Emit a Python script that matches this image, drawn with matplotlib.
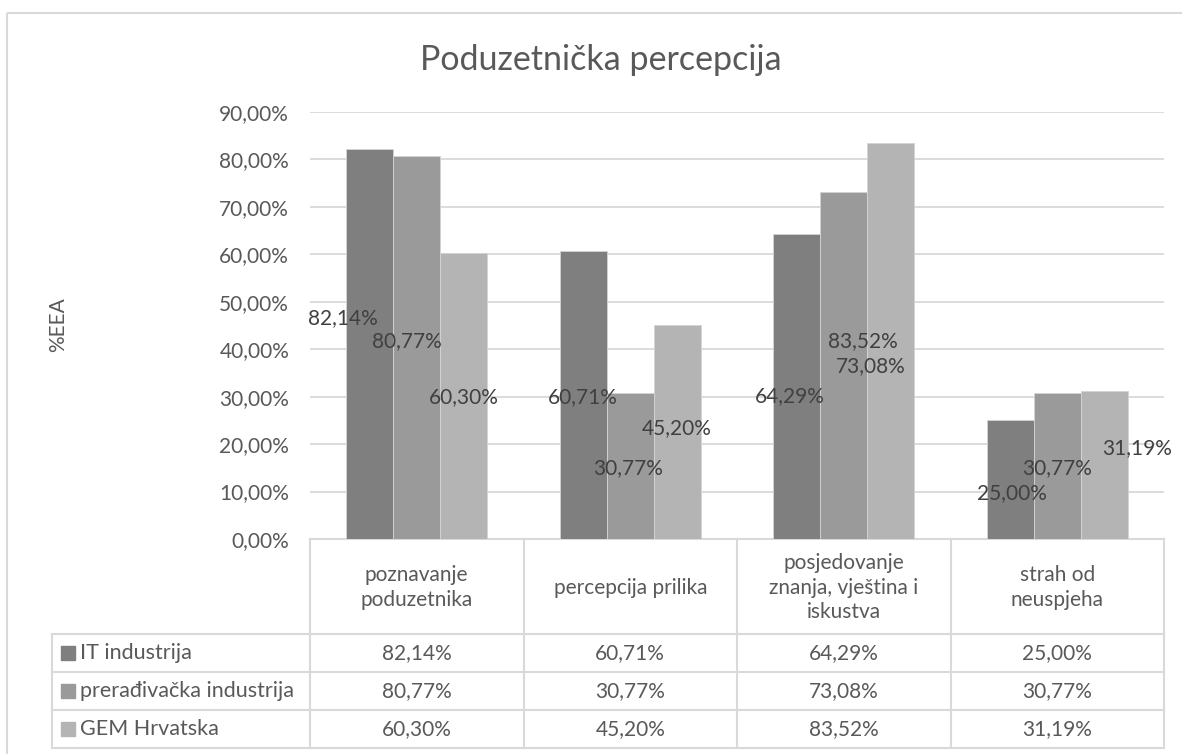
import matplotlib.pyplot as plt
from matplotlib.patches import Rectangle


W, H = 1182, 754

categories = [
    "poznavanje\npoduzetnika",
    "percepcija prilika",
    "posjedovanje\nznanja, vještina i\niskustva",
    "strah od\nneuspjeha",
]
series_names = ["IT industrija", "prerađivačka industrija", "GEM Hrvatska"]
it_industrija = [82.14, 60.71, 64.29, 25.00]
preradivacka_industrija = [80.77, 30.77, 73.08, 30.77]
gem_hrvatska = [60.30, 45.20, 83.52, 31.19]
y_ticks = [0, 10, 20, 30, 40, 50, 60, 70, 80, 90]

series_values = [it_industrija, preradivacka_industrija, gem_hrvatska]
colors = ["#7f7f7f", "#9a9a9a", "#b4b4b4"]

# hand-placed data labels: nudge from the bar centre, in pixels (dx, dy)
label_nudges = [
    [(-27, 26), (0, -2), (-7, -10), (2, -13)],
    [(-10, 6), (-2, -2), (27, 0), (0, -2)],
    [(0, -1), (-1, 4), (-28, 0), (33, 17)],
]

TEXT = "#595959"
GRID = "#d9d9d9"
FONT = ["Lato", "DejaVu Sans"]

# layout in pixels, measured from the top-left corner
PLOT_L, PLOT_R, PLOT_T, PLOT_B = 310, 1164, 112, 539
TABLE_L = 52
HEADER_B = 634
ROW_H = 38
BAR_W = 0.22


def pct(v):
    return f"{v:.2f}%".replace(".", ",")


def main():
    plt.rcParams["font.family"] = FONT

    fig = plt.figure(figsize=(W / 100, H / 100), dpi=100)

    # frame, table lines and texts drawn in pixel space
    over = fig.add_axes([0, 0, 1, 1])
    over.set_xlim(0, W)
    over.set_ylim(H, 0)
    over.axis("off")
    over.add_patch(Rectangle((7, 13), W, H, fill=False, edgecolor=GRID, lw=1.5))

    ax = fig.add_axes([
        PLOT_L / W,
        1 - PLOT_B / H,
        (PLOT_R - PLOT_L) / W,
        (PLOT_B - PLOT_T) / H,
    ])
    n = len(categories)
    x = list(range(n))
    for i, (values, color) in enumerate(zip(series_values, colors)):
        pos = [xi + (i - 1) * BAR_W for xi in x]
        ax.bar(pos, values, width=BAR_W, color=color, edgecolor="#d4d4d4",
               linewidth=0.6, zorder=2)
        for xi, v, (dx, dy) in zip(pos, values, label_nudges[i]):
            ax.annotate(pct(v), (xi, v / 2), xytext=(dx, dy),
                        textcoords="offset pixels", ha="center", va="center",
                        fontsize=15, color="#404040", zorder=4,
                        annotation_clip=False)

    ax.set_xlim(-0.5, n - 0.5)
    ax.set_ylim(0, 90)
    ax.set_yticks(y_ticks)
    ax.set_yticklabels([pct(t) for t in y_ticks])
    ax.set_xticks([])
    ax.yaxis.grid(True, color=GRID, lw=1.3)
    ax.set_axisbelow(True)
    ax.tick_params(axis="y", length=0, pad=15, labelsize=15, labelcolor=TEXT)
    for spine in ax.spines.values():
        spine.set_visible(False)
    ax.patch.set_alpha(0)

    fig.text(601 / W, 1 - 60 / H, "Poduzetnička percepcija", ha="center",
             va="center", fontsize=24.5, color=TEXT)
    fig.text(58 / W, 1 - 325 / H, "%EEA", rotation=90, ha="center",
             va="center", fontsize=15, color=TEXT)

    # data table under the plot
    col_w = (PLOT_R - PLOT_L) / n
    col_x = [PLOT_L + k * col_w for k in range(n + 1)]
    rows_y = [HEADER_B + k * ROW_H for k in range(len(series_names) + 1)]
    table_b = rows_y[-1]

    over.plot([PLOT_L, PLOT_R], [PLOT_B, PLOT_B], color=GRID, lw=1.5)
    for cx in col_x:
        over.plot([cx, cx], [PLOT_B, table_b], color=GRID, lw=1.5)
    over.plot([TABLE_L, TABLE_L], [HEADER_B, table_b], color=GRID, lw=1.5)
    for ry in rows_y:
        over.plot([TABLE_L, PLOT_R], [ry, ry], color=GRID, lw=1.5)

    header_mid = (PLOT_B + HEADER_B) / 2
    for k, name in enumerate(categories):
        over.text((col_x[k] + col_x[k + 1]) / 2, header_mid + 1, name,
                  ha="center", va="center", fontsize=15, color=TEXT,
                  linespacing=1.3, multialignment="center")

    for r, (name, values, color) in enumerate(zip(series_names, series_values, colors)):
        mid = rows_y[r] + ROW_H / 2
        over.add_patch(Rectangle((61, mid - 7), 14, 14, color=color))
        over.text(80, mid, name, ha="left", va="center", fontsize=15.5,
                  color=TEXT)
        for k, v in enumerate(values):
            over.text((col_x[k] + col_x[k + 1]) / 2, mid, pct(v),
                      ha="center", va="center", fontsize=15, color=TEXT)

    fig.savefig("out.png", dpi=100)
    plt.close(fig)


if __name__ == "__main__":
    main()
